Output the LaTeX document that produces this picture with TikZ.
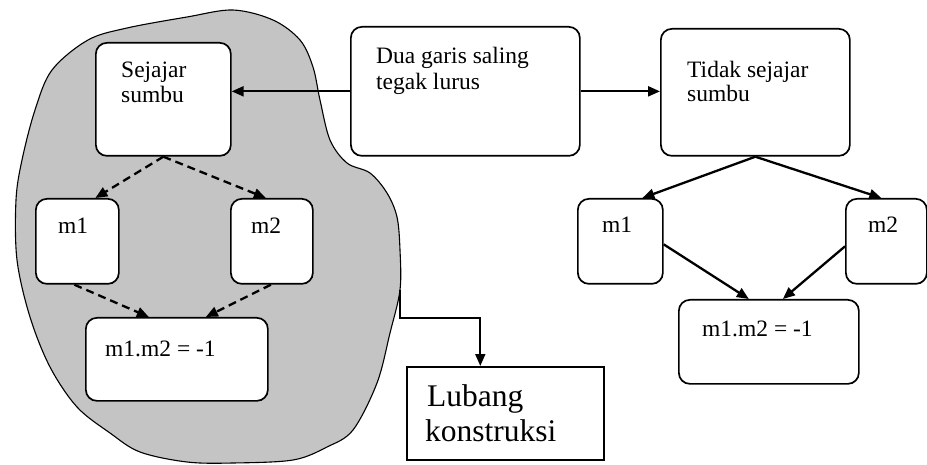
\documentclass[tikz,border=0pt]{standalone}
\usepackage{fontspec}
\setmainfont{Liberation Serif}
\usetikzlibrary{arrows.meta,calc}
\begin{document}
\begin{tikzpicture}[x=1pt,y=-1pt,
  box/.style={draw=black,line width=1.7pt,rounded corners=11pt,fill=white,anchor=north west,inner sep=0pt},
  sqbox/.style={draw=black,line width=1.6pt,fill=white,anchor=north west,inner sep=0pt},
  txt/.style={anchor=base west,inner sep=0pt,font=\fontsize{23.5}{28}\selectfont},
  bigtxt/.style={anchor=base west,inner sep=0pt,font=\fontsize{31.5}{34}\selectfont},
  arr/.style={line width=2.3pt,-{Triangle[length=12pt,width=10pt]}},
  darr/.style={line width=2.3pt,dash pattern=on 8pt off 5pt,-{Triangle[length=12pt,width=10pt]}},
  link/.style={line width=1.9pt,-{Triangle[length=12pt,width=10pt]}}]
\useasboundingbox (0,0) rectangle (927,465);

% shaded region
\def\blobpts{(233,10) (273,20) (300,40) (313,67) (320,100) (330,140) (347,163) (370,173)
  (387,193) (397,217) (400,250) (400,290) (390,333) (377,383) (353,430) (327,447)
  (293,460) (233,463) (187,462) (140,452) (110,433) (77,407) (50,367) (30,317)
  (17,260) (16,200) (22,160) (35,110) (52,70) (88,40) (127,28) (187,17)}
\fill[black!23] plot[smooth cycle,tension=0.55] coordinates {\blobpts};
\draw[line width=1.1pt] plot[smooth cycle,tension=0.55] coordinates {\blobpts};
\coordinate (edge) at (400,290);

% boxes
\node[box,minimum width=135pt,minimum height=113pt] (sej) at (95,42) {};
\node[box,minimum width=229pt,minimum height=129pt] (dua) at (350,26) {};
\node[box,minimum width=189pt,minimum height=127pt] (tid) at (660,28) {};
\node[box,minimum width=83pt,minimum height=85pt] (lmA) at (35,198) {};
\node[box,minimum width=82pt,minimum height=85pt] (lmB) at (230,198) {};
\node[box,minimum width=182pt,minimum height=83pt] (lmm) at (85,317) {};
\node[box,minimum width=85pt,minimum height=85pt] (rmA) at (577,198) {};
\node[box,minimum width=81pt,minimum height=85pt] (rmB) at (845,198) {};
\node[box,minimum width=180pt,minimum height=84pt] (rmm) at (678,299) {};
\node[sqbox,minimum width=197pt,minimum height=93pt] (lub) at (406,366) {};

% texts
\node[txt] (sejA) at (121,78) {Sejajar};
\node[txt] (sejB) at (121,103) {sumbu};
\node[txt] (duaA) at (376,64) {Dua garis saling};
\node[txt] (duaB) at (376,90) {tegak lurus};
\node[txt] (tidA) at (687,78) {Tidak sejajar};
\node[txt] (tidB) at (687,102) {sumbu};
\node[txt] (lmAt) at (58,234) {m1};
\node[txt] (lmBt) at (251,234) {m2};
\node[txt] (lmmt) at (105,356) {m1.m2 = -1};
\node[txt] (rmAt) at (602,233) {m1};
\node[txt] (rmBt) at (868,233) {m2};
\node[txt] (rmmt) at (702,337) {m1.m2 = -1};
\node[bigtxt] (lubA) at (427,406) {Lubang};
\node[bigtxt] (lubB) at (425,441) {konstruksi};

% connectors
\draw[arr] (dua.west) -- (dua.west -| sej.east);
\draw[arr] (dua.east) -- (dua.east -| tid.west);
\draw[arr] (tid.south) -- ([xshift=22pt]rmA.north);
\draw[arr] (tid.south) -- ([xshift=-5pt]rmB.north);
\draw[arr] ([yshift=-3pt]rmA.east) -- ([xshift=-20pt]rmm.north);
\draw[arr] ([yshift=-5pt]rmB.west) -- ([xshift=14pt]rmm.north);
\draw[darr] (sej.south) -- ([xshift=18pt]lmA.north);
\draw[darr] (sej.south) -- ([xshift=-6pt]lmB.north);
\draw[darr] ([xshift=-3pt]lmA.south) -- ([xshift=-28pt]lmm.north);
\draw[darr] ([xshift=-1pt]lmB.south) -- ([xshift=29pt]lmm.north);
\draw[link] (edge) -- ++(0,28) -| ([xshift=-25pt]lub.north);
\end{tikzpicture}
\end{document}
